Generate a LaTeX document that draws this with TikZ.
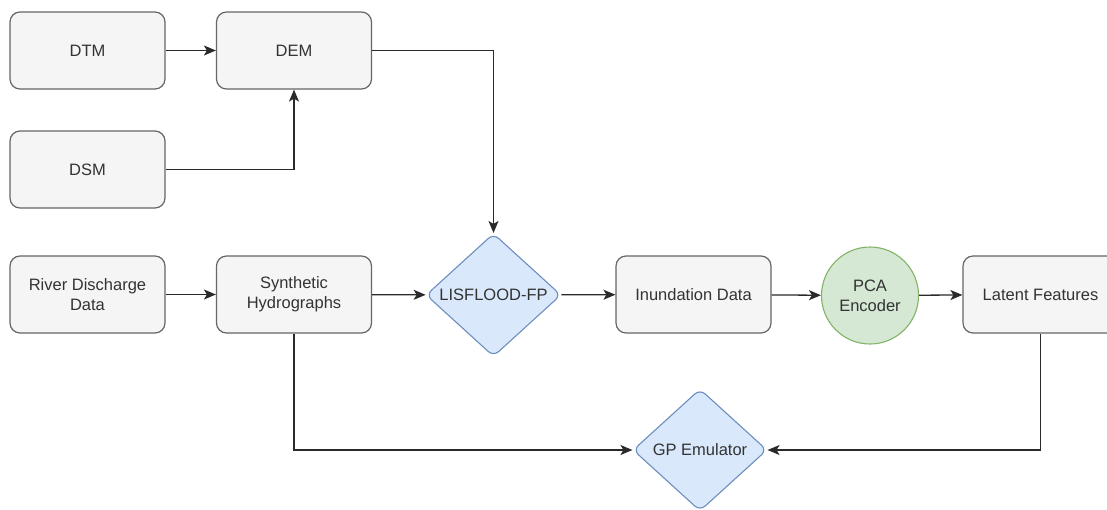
\documentclass[tikz,border=0pt]{standalone}
\usepackage{fontspec}
\setmainfont{Liberation Sans}
\usetikzlibrary{shapes.geometric,arrows.meta}
\definecolor{boxfill}{HTML}{F5F5F5}
\definecolor{boxline}{HTML}{666666}
\definecolor{txt}{HTML}{333333}
\definecolor{bluefill}{HTML}{DAE8FC}
\definecolor{blueline}{HTML}{6C8EBF}
\definecolor{greenfill}{HTML}{D5E8D4}
\definecolor{greenline}{HTML}{82B366}
\definecolor{conn}{HTML}{2A2A2A}
\tikzset{
  box/.style={draw=boxline, fill=boxfill, rounded corners=10pt, line width=1.2pt,
    minimum width=155pt, minimum height=77pt, inner sep=0pt, align=center,
    text=txt, font=\fontsize{16.5}{20}\selectfont},
  dia/.style={diamond, draw=blueline, fill=bluefill, rounded corners=7pt, line width=1.1pt,
    minimum width=135pt, minimum height=123pt, inner sep=0pt, align=center,
    text=txt, font=\fontsize{16.5}{20}\selectfont},
  circ/.style={circle, draw=greenline, fill=greenfill, line width=1.1pt,
    minimum size=97pt, inner sep=0pt, align=center,
    text=txt, font=\fontsize{16.5}{20}\selectfont},
  conn/.style={draw=conn, line width=1.3pt, -{Stealth[length=12pt,width=10pt,inset=3pt]}}
}
\begin{document}
\begin{tikzpicture}[x=1pt,y=-1pt]
\clip (0,0) rectangle (1107,509);
\fill[white] (0,0) rectangle (1107,509);
\node[box] (dtm) at (87.5,50.5) {DTM};
\node[box] (dem) at (294,50.5) {DEM};
\node[box] (dsm) at (87.5,169.5) {DSM};
\node[box] (river) at (87.5,294.5) {River Discharge\\Data};
\node[box] (synth) at (294,294.5) {Synthetic\\Hydrographs};
\node[dia] (lis) at (493.5,295) {LISFLOOD-FP};
\node[box] (inun) at (693.5,294.5) {Inundation Data};
\node[circ] (pca) at (870,295.5) {PCA\\Encoder};
\node[box] (latent) at (1040.5,294.5) {Latent Features};
\node[dia, minimum width=134pt, minimum height=122pt] (gp) at (700,450) {GP Emulator};

\draw[conn] (dtm) -- (dem);
\draw[conn] (dsm.east) -| (dem.south);
\draw[conn] (dem.east) -| (lis.north);
\draw[conn] (river) -- (synth);
\draw[conn] (synth) -- (lis);
\draw[conn] (lis) -- (inun);
\draw[conn] (inun) -- (pca);
\draw[conn] (pca) -- (latent);
\draw[conn] (synth.south) |- (gp.west);
\draw[conn] (latent.south) |- (gp.east);
\end{tikzpicture}
\end{document}
